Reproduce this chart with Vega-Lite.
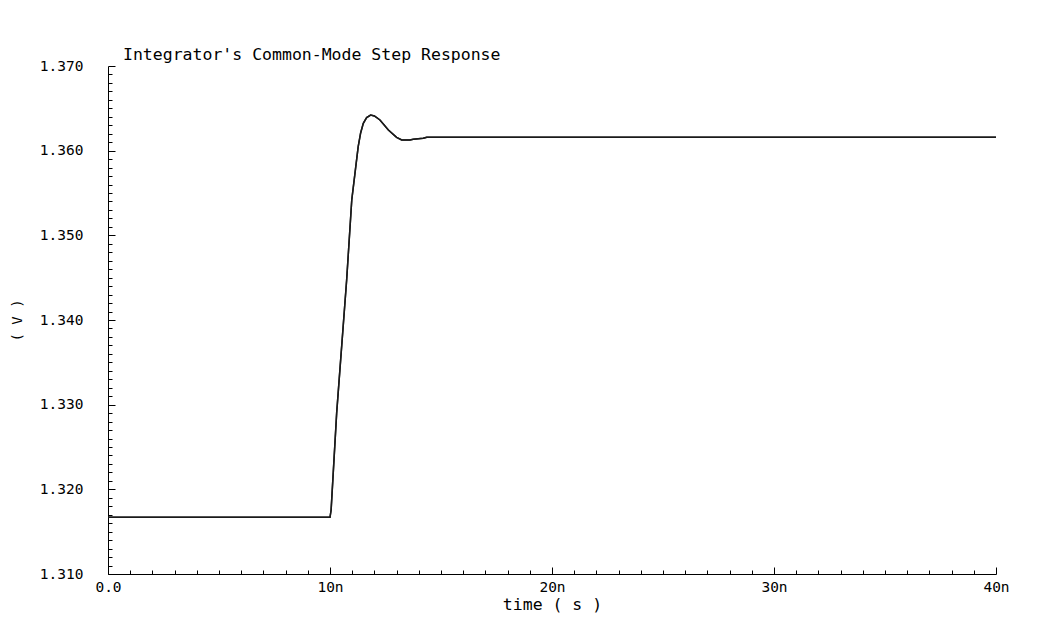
{
  "$schema": "https://vega.github.io/schema/vega-lite/v6.json",
  "width": 888,
  "height": 508,
  "autosize": {"type": "none"},
  "padding": {"left": 108, "top": 66, "right": 59, "bottom": 43},
  "background": "white",
  "title": {
    "text": "Integrator's Common-Mode Step Response",
    "anchor": "start",
    "frame": "group",
    "dx": 15,
    "offset": -5,
    "font": "DejaVu Sans Mono",
    "fontSize": 16.5,
    "fontWeight": "normal",
    "color": "black"
  },
  "data": {
    "values": [
      {"t": 0, "v": 1.3167},
      {"t": 10.0, "v": 1.3167},
      {"t": 10.05, "v": 1.31756},
      {"t": 10.3, "v": 1.329},
      {"t": 10.75, "v": 1.34472},
      {"t": 10.98, "v": 1.35417},
      {"t": 11.27, "v": 1.36047},
      {"t": 11.38, "v": 1.36209},
      {"t": 11.5, "v": 1.36323},
      {"t": 11.65, "v": 1.3639},
      {"t": 11.83, "v": 1.36421},
      {"t": 12.0, "v": 1.3641},
      {"t": 12.25, "v": 1.36362},
      {"t": 12.63, "v": 1.36244},
      {"t": 13.0, "v": 1.36158},
      {"t": 13.23, "v": 1.36126},
      {"t": 13.6, "v": 1.36126},
      {"t": 13.75, "v": 1.36134},
      {"t": 14.2, "v": 1.36146},
      {"t": 14.36, "v": 1.36158},
      {"t": 40, "v": 1.36158}
    ]
  },
  "layer": [
    {
      "mark": {"type": "line", "color": "#1a1a1a", "strokeWidth": 1.5},
      "encoding": {
        "x": {
          "field": "t",
          "type": "quantitative",
          "scale": {"domain": [0, 40], "nice": false, "zero": false},
          "axis": {
            "orient": "bottom",
            "values": [0, 10, 20, 30, 40],
            "labelExpr": "datum.value === 0 ? '0.0' : datum.value + 'n'",
            "ticks": false,
            "grid": false,
            "domainColor": "black",
            "labelFont": "DejaVu Sans Mono",
            "labelFontSize": 14.5,
            "labelColor": "black",
            "labelPadding": 6,
            "labelFlush": false,
            "labelOverlap": false,
            "title": "time ( s )",
            "titleFont": "DejaVu Sans Mono",
            "titleFontSize": 16.5,
            "titleFontWeight": "normal",
            "titleColor": "black",
            "titlePadding": 3
          }
        },
        "y": {
          "field": "v",
          "type": "quantitative",
          "scale": {"domain": [1.31, 1.37], "nice": false, "zero": false},
          "axis": {
            "orient": "left",
            "values": [1.31, 1.32, 1.33, 1.34, 1.35, 1.36, 1.37],
            "format": ".3f",
            "ticks": false,
            "grid": false,
            "domainColor": "black",
            "labelFont": "DejaVu Sans Mono",
            "labelFontSize": 14.5,
            "labelColor": "black",
            "labelPadding": 25,
            "labelFlush": false,
            "labelOverlap": false,
            "title": "( V )",
            "titleFont": "DejaVu Sans Mono",
            "titleFontSize": 14,
            "titleFontWeight": "normal",
            "titleColor": "black",
            "titlePadding": 15
          }
        }
      }
    },
    {
      "mark": {"type": "line", "color": "#1a1a1a", "strokeWidth": 1.5},
      "encoding": {
        "x": {
          "field": "t",
          "type": "quantitative",
          "axis": {
            "orient": "top",
            "offset": -508,
            "values": [0,1,2,3,4,5,6,7,8,9,10,11,12,13,14,15,16,17,18,19,20,21,22,23,24,25,26,27,28,29,30,31,32,33,34,35,36,37,38,39,40],
            "labels": false,
            "domain": false,
            "grid": false,
            "title": null,
            "tickColor": "black",
            "tickSize": {"condition": {"test": "datum.value % 10 === 0", "value": 7}, "value": 4}
          }
        },
        "y": {
          "field": "v",
          "type": "quantitative",
          "axis": {
            "orient": "right",
            "offset": -888,
            "values": [1.31,1.311,1.312,1.313,1.314,1.315,1.316,1.317,1.318,1.319,1.32,1.321,1.322,1.323,1.324,1.325,1.326,1.327,1.328,1.329,1.33,1.331,1.332,1.333,1.334,1.335,1.336,1.337,1.338,1.339,1.34,1.341,1.342,1.343,1.344,1.345,1.346,1.347,1.348,1.349,1.35,1.351,1.352,1.353,1.354,1.355,1.356,1.357,1.358,1.359,1.36,1.361,1.362,1.363,1.364,1.365,1.366,1.367,1.368,1.369,1.37],
            "labels": false,
            "domain": false,
            "grid": false,
            "title": null,
            "tickColor": "black",
            "tickSize": {"condition": {"test": "abs(datum.value*100 - round(datum.value*100)) < 1e-6", "value": 7}, "value": 4}
          }
        }
      }
    }
  ],
  "resolve": {"axis": {"x": "independent", "y": "independent"}},
  "config": {"view": {"stroke": null}}
}
